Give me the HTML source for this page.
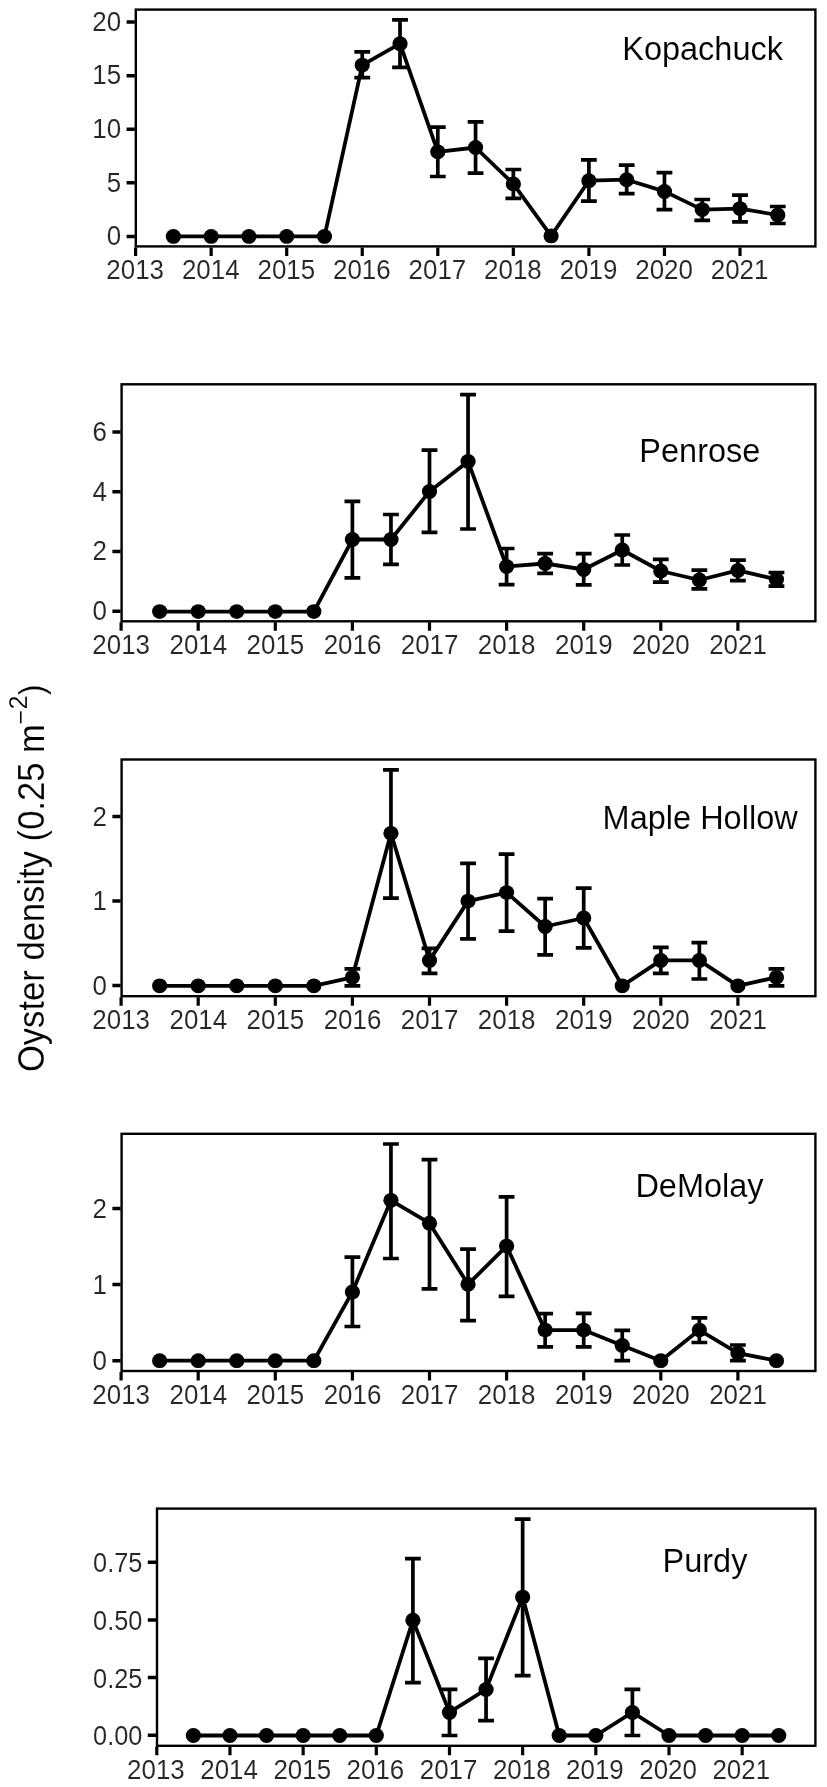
<!DOCTYPE html>
<html><head><meta charset="utf-8"><title>Oyster density</title>
<style>
html,body{margin:0;padding:0;background:#fff;}
body{width:827px;height:1787px;overflow:hidden;font-family:"Liberation Sans",sans-serif;}
svg{display:block;will-change:transform;font-family:"Liberation Sans",sans-serif;}
</style></head><body>
<svg width="827" height="1787" viewBox="0 0 827 1787">
<rect width="827" height="1787" fill="#fff"/>
<g stroke="#000" fill="none">
<rect x="135.80" y="9.60" width="679.60" height="236.80" stroke-width="2.4"/>
<path d="M126.60 22.10H134.80M126.60 75.70H134.80M126.60 129.30H134.80M126.60 182.80H134.80M126.60 236.40H134.80" stroke-width="3.5"/>
<path d="M135.60 247.40V255.90M211.15 247.40V255.90M286.70 247.40V255.90M362.25 247.40V255.90M437.80 247.40V255.90M513.35 247.40V255.90M588.90 247.40V255.90M664.45 247.40V255.90M740.00 247.40V255.90" stroke-width="3.2"/>
<path d="M362.25 77.70V51.90M354.35 77.70H370.15M354.35 51.90H370.15M400.02 67.30V19.80M392.12 67.30H407.92M392.12 19.80H407.92M437.80 176.50V127.20M429.90 176.50H445.70M429.90 127.20H445.70M475.57 173.20V121.90M467.67 173.20H483.47M467.67 121.90H483.47M513.35 198.40V169.50M505.45 198.40H521.25M505.45 169.50H521.25M588.90 201.10V159.90M581.00 201.10H596.80M581.00 159.90H596.80M626.67 193.60V165.20M618.77 193.60H634.57M618.77 165.20H634.57M664.45 209.60V172.70M656.55 209.60H672.35M656.55 172.70H672.35M702.23 220.30V199.50M694.33 220.30H710.12M694.33 199.50H710.12M740.00 221.90V195.20M732.10 221.90H747.90M732.10 195.20H747.90M777.77 223.50V206.50M769.88 223.50H785.67M769.88 206.50H785.67" stroke-width="3.7"/>
<polyline points="173.38,236.40 211.15,236.40 248.92,236.40 286.70,236.40 324.48,236.40 362.25,65.10 400.02,43.70 437.80,151.80 475.57,147.50 513.35,183.90 551.12,235.90 588.90,180.70 626.67,179.70 664.45,191.40 702.23,209.60 740.00,208.60 777.77,215.00" stroke-width="3.8" stroke-linejoin="round"/>
<ellipse cx="173.38" cy="236.40" rx="7.6" ry="7.4" fill="#000" stroke="none"/>
<ellipse cx="211.15" cy="236.40" rx="7.6" ry="7.4" fill="#000" stroke="none"/>
<ellipse cx="248.92" cy="236.40" rx="7.6" ry="7.4" fill="#000" stroke="none"/>
<ellipse cx="286.70" cy="236.40" rx="7.6" ry="7.4" fill="#000" stroke="none"/>
<ellipse cx="324.48" cy="236.40" rx="7.6" ry="7.4" fill="#000" stroke="none"/>
<ellipse cx="362.25" cy="65.10" rx="7.6" ry="7.4" fill="#000" stroke="none"/>
<ellipse cx="400.02" cy="43.70" rx="7.6" ry="7.4" fill="#000" stroke="none"/>
<ellipse cx="437.80" cy="151.80" rx="7.6" ry="7.4" fill="#000" stroke="none"/>
<ellipse cx="475.57" cy="147.50" rx="7.6" ry="7.4" fill="#000" stroke="none"/>
<ellipse cx="513.35" cy="183.90" rx="7.6" ry="7.4" fill="#000" stroke="none"/>
<ellipse cx="551.12" cy="235.90" rx="7.6" ry="7.4" fill="#000" stroke="none"/>
<ellipse cx="588.90" cy="180.70" rx="7.6" ry="7.4" fill="#000" stroke="none"/>
<ellipse cx="626.67" cy="179.70" rx="7.6" ry="7.4" fill="#000" stroke="none"/>
<ellipse cx="664.45" cy="191.40" rx="7.6" ry="7.4" fill="#000" stroke="none"/>
<ellipse cx="702.23" cy="209.60" rx="7.6" ry="7.4" fill="#000" stroke="none"/>
<ellipse cx="740.00" cy="208.60" rx="7.6" ry="7.4" fill="#000" stroke="none"/>
<ellipse cx="777.77" cy="215.00" rx="7.6" ry="7.4" fill="#000" stroke="none"/>
<rect x="121.60" y="384.30" width="693.80" height="237.00" stroke-width="2.4"/>
<path d="M112.40 431.90H120.60M112.40 491.70H120.60M112.40 551.50H120.60M112.40 611.30H120.60" stroke-width="3.5"/>
<path d="M121.10 622.30V630.80M198.20 622.30V630.80M275.30 622.30V630.80M352.40 622.30V630.80M429.50 622.30V630.80M506.60 622.30V630.80M583.70 622.30V630.80M660.80 622.30V630.80M737.90 622.30V630.80" stroke-width="3.2"/>
<path d="M352.40 577.90V501.30M344.50 577.90H360.30M344.50 501.30H360.30M390.95 564.40V514.50M383.05 564.40H398.85M383.05 514.50H398.85M429.50 532.30V450.20M421.60 532.30H437.40M421.60 450.20H437.40M468.05 529.00V394.60M460.15 529.00H475.95M460.15 394.60H475.95M506.60 584.60V548.50M498.70 584.60H514.50M498.70 548.50H514.50M545.15 573.40V553.60M537.25 573.40H553.05M537.25 553.60H553.05M583.70 584.90V553.60M575.80 584.90H591.60M575.80 553.60H591.60M622.25 565.00V535.00M614.35 565.00H630.15M614.35 535.00H630.15M660.80 582.20V559.30M652.90 582.20H668.70M652.90 559.30H668.70M699.35 588.80V570.10M691.45 588.80H707.25M691.45 570.10H707.25M737.90 580.60V560.20M730.00 580.60H745.80M730.00 560.20H745.80M776.45 586.10V572.50M768.55 586.10H784.35M768.55 572.50H784.35" stroke-width="3.7"/>
<polyline points="159.65,611.60 198.20,611.60 236.75,611.60 275.30,611.60 313.85,611.60 352.40,539.50 390.95,539.50 429.50,491.40 468.05,461.40 506.60,566.50 545.15,563.50 583.70,569.50 622.25,550.00 660.80,571.00 699.35,580.00 737.90,570.40 776.45,579.40" stroke-width="3.8" stroke-linejoin="round"/>
<ellipse cx="159.65" cy="611.60" rx="7.6" ry="7.4" fill="#000" stroke="none"/>
<ellipse cx="198.20" cy="611.60" rx="7.6" ry="7.4" fill="#000" stroke="none"/>
<ellipse cx="236.75" cy="611.60" rx="7.6" ry="7.4" fill="#000" stroke="none"/>
<ellipse cx="275.30" cy="611.60" rx="7.6" ry="7.4" fill="#000" stroke="none"/>
<ellipse cx="313.85" cy="611.60" rx="7.6" ry="7.4" fill="#000" stroke="none"/>
<ellipse cx="352.40" cy="539.50" rx="7.6" ry="7.4" fill="#000" stroke="none"/>
<ellipse cx="390.95" cy="539.50" rx="7.6" ry="7.4" fill="#000" stroke="none"/>
<ellipse cx="429.50" cy="491.40" rx="7.6" ry="7.4" fill="#000" stroke="none"/>
<ellipse cx="468.05" cy="461.40" rx="7.6" ry="7.4" fill="#000" stroke="none"/>
<ellipse cx="506.60" cy="566.50" rx="7.6" ry="7.4" fill="#000" stroke="none"/>
<ellipse cx="545.15" cy="563.50" rx="7.6" ry="7.4" fill="#000" stroke="none"/>
<ellipse cx="583.70" cy="569.50" rx="7.6" ry="7.4" fill="#000" stroke="none"/>
<ellipse cx="622.25" cy="550.00" rx="7.6" ry="7.4" fill="#000" stroke="none"/>
<ellipse cx="660.80" cy="571.00" rx="7.6" ry="7.4" fill="#000" stroke="none"/>
<ellipse cx="699.35" cy="580.00" rx="7.6" ry="7.4" fill="#000" stroke="none"/>
<ellipse cx="737.90" cy="570.40" rx="7.6" ry="7.4" fill="#000" stroke="none"/>
<ellipse cx="776.45" cy="579.40" rx="7.6" ry="7.4" fill="#000" stroke="none"/>
<rect x="121.60" y="759.50" width="693.80" height="236.70" stroke-width="2.4"/>
<path d="M112.40 816.40H120.60M112.40 901.00H120.60M112.40 985.50H120.60" stroke-width="3.5"/>
<path d="M121.10 997.20V1005.70M198.20 997.20V1005.70M275.30 997.20V1005.70M352.40 997.20V1005.70M429.50 997.20V1005.70M506.60 997.20V1005.70M583.70 997.20V1005.70M660.80 997.20V1005.70M737.90 997.20V1005.70" stroke-width="3.2"/>
<path d="M352.40 985.80V968.90M344.50 985.80H360.30M344.50 968.90H360.30M390.95 898.10V769.80M383.05 898.10H398.85M383.05 769.80H398.85M429.50 973.30V948.30M421.60 973.30H437.40M421.60 948.30H437.40M468.05 938.80V863.40M460.15 938.80H475.95M460.15 863.40H475.95M506.60 931.20V854.10M498.70 931.20H514.50M498.70 854.10H514.50M545.15 954.80V898.60M537.25 954.80H553.05M537.25 898.60H553.05M583.70 947.90V888.20M575.80 947.90H591.60M575.80 888.20H591.60M660.80 973.30V947.30M652.90 973.30H668.70M652.90 947.30H668.70M699.35 979.00V942.60M691.45 979.00H707.25M691.45 942.60H707.25M776.45 985.80V968.90M768.55 985.80H784.35M768.55 968.90H784.35" stroke-width="3.7"/>
<polyline points="159.65,985.80 198.20,985.80 236.75,985.80 275.30,985.80 313.85,985.80 352.40,977.30 390.95,833.30 429.50,960.40 468.05,901.10 506.60,892.60 545.15,926.50 583.70,918.00 622.25,985.80 660.80,960.40 699.35,960.40 737.90,985.80 776.45,977.30" stroke-width="3.8" stroke-linejoin="round"/>
<ellipse cx="159.65" cy="985.80" rx="7.6" ry="7.4" fill="#000" stroke="none"/>
<ellipse cx="198.20" cy="985.80" rx="7.6" ry="7.4" fill="#000" stroke="none"/>
<ellipse cx="236.75" cy="985.80" rx="7.6" ry="7.4" fill="#000" stroke="none"/>
<ellipse cx="275.30" cy="985.80" rx="7.6" ry="7.4" fill="#000" stroke="none"/>
<ellipse cx="313.85" cy="985.80" rx="7.6" ry="7.4" fill="#000" stroke="none"/>
<ellipse cx="352.40" cy="977.30" rx="7.6" ry="7.4" fill="#000" stroke="none"/>
<ellipse cx="390.95" cy="833.30" rx="7.6" ry="7.4" fill="#000" stroke="none"/>
<ellipse cx="429.50" cy="960.40" rx="7.6" ry="7.4" fill="#000" stroke="none"/>
<ellipse cx="468.05" cy="901.10" rx="7.6" ry="7.4" fill="#000" stroke="none"/>
<ellipse cx="506.60" cy="892.60" rx="7.6" ry="7.4" fill="#000" stroke="none"/>
<ellipse cx="545.15" cy="926.50" rx="7.6" ry="7.4" fill="#000" stroke="none"/>
<ellipse cx="583.70" cy="918.00" rx="7.6" ry="7.4" fill="#000" stroke="none"/>
<ellipse cx="622.25" cy="985.80" rx="7.6" ry="7.4" fill="#000" stroke="none"/>
<ellipse cx="660.80" cy="960.40" rx="7.6" ry="7.4" fill="#000" stroke="none"/>
<ellipse cx="699.35" cy="960.40" rx="7.6" ry="7.4" fill="#000" stroke="none"/>
<ellipse cx="737.90" cy="985.80" rx="7.6" ry="7.4" fill="#000" stroke="none"/>
<ellipse cx="776.45" cy="977.30" rx="7.6" ry="7.4" fill="#000" stroke="none"/>
<rect x="121.60" y="1133.80" width="693.80" height="237.20" stroke-width="2.4"/>
<path d="M112.40 1208.60H120.60M112.40 1284.60H120.60M112.40 1360.70H120.60" stroke-width="3.5"/>
<path d="M121.10 1372.00V1380.50M198.20 1372.00V1380.50M275.30 1372.00V1380.50M352.40 1372.00V1380.50M429.50 1372.00V1380.50M506.60 1372.00V1380.50M583.70 1372.00V1380.50M660.80 1372.00V1380.50M737.90 1372.00V1380.50" stroke-width="3.2"/>
<path d="M352.40 1326.50V1257.20M344.50 1326.50H360.30M344.50 1257.20H360.30M390.95 1258.50V1144.00M383.05 1258.50H398.85M383.05 1144.00H398.85M429.50 1288.90V1159.60M421.60 1288.90H437.40M421.60 1159.60H437.40M468.05 1320.60V1249.20M460.15 1320.60H475.95M460.15 1249.20H475.95M506.60 1296.40V1196.80M498.70 1296.40H514.50M498.70 1196.80H514.50M545.15 1346.90V1313.70M537.25 1346.90H553.05M537.25 1313.70H553.05M583.70 1346.90V1313.30M575.80 1346.90H591.60M575.80 1313.30H591.60M622.25 1360.70V1330.40M614.35 1360.70H630.15M614.35 1330.40H630.15M699.35 1342.50V1317.90M691.45 1342.50H707.25M691.45 1317.90H707.25M737.90 1360.70V1345.00M730.00 1360.70H745.80M730.00 1345.00H745.80" stroke-width="3.7"/>
<polyline points="159.65,1360.70 198.20,1360.70 236.75,1360.70 275.30,1360.70 313.85,1360.70 352.40,1291.90 390.95,1200.30 429.50,1223.20 468.05,1284.30 506.60,1246.10 545.15,1330.10 583.70,1330.10 622.25,1345.40 660.80,1360.70 699.35,1330.10 737.90,1353.10 776.45,1360.70" stroke-width="3.8" stroke-linejoin="round"/>
<ellipse cx="159.65" cy="1360.70" rx="7.6" ry="7.4" fill="#000" stroke="none"/>
<ellipse cx="198.20" cy="1360.70" rx="7.6" ry="7.4" fill="#000" stroke="none"/>
<ellipse cx="236.75" cy="1360.70" rx="7.6" ry="7.4" fill="#000" stroke="none"/>
<ellipse cx="275.30" cy="1360.70" rx="7.6" ry="7.4" fill="#000" stroke="none"/>
<ellipse cx="313.85" cy="1360.70" rx="7.6" ry="7.4" fill="#000" stroke="none"/>
<ellipse cx="352.40" cy="1291.90" rx="7.6" ry="7.4" fill="#000" stroke="none"/>
<ellipse cx="390.95" cy="1200.30" rx="7.6" ry="7.4" fill="#000" stroke="none"/>
<ellipse cx="429.50" cy="1223.20" rx="7.6" ry="7.4" fill="#000" stroke="none"/>
<ellipse cx="468.05" cy="1284.30" rx="7.6" ry="7.4" fill="#000" stroke="none"/>
<ellipse cx="506.60" cy="1246.10" rx="7.6" ry="7.4" fill="#000" stroke="none"/>
<ellipse cx="545.15" cy="1330.10" rx="7.6" ry="7.4" fill="#000" stroke="none"/>
<ellipse cx="583.70" cy="1330.10" rx="7.6" ry="7.4" fill="#000" stroke="none"/>
<ellipse cx="622.25" cy="1345.40" rx="7.6" ry="7.4" fill="#000" stroke="none"/>
<ellipse cx="660.80" cy="1360.70" rx="7.6" ry="7.4" fill="#000" stroke="none"/>
<ellipse cx="699.35" cy="1330.10" rx="7.6" ry="7.4" fill="#000" stroke="none"/>
<ellipse cx="737.90" cy="1353.10" rx="7.6" ry="7.4" fill="#000" stroke="none"/>
<ellipse cx="776.45" cy="1360.70" rx="7.6" ry="7.4" fill="#000" stroke="none"/>
<rect x="157.00" y="1508.60" width="658.40" height="237.20" stroke-width="2.4"/>
<path d="M147.80 1562.30H156.00M147.80 1620.00H156.00M147.80 1677.60H156.00M147.80 1735.30H156.00" stroke-width="3.5"/>
<path d="M156.80 1746.80V1755.30M229.97 1746.80V1755.30M303.14 1746.80V1755.30M376.31 1746.80V1755.30M449.48 1746.80V1755.30M522.65 1746.80V1755.30M595.82 1746.80V1755.30M668.99 1746.80V1755.30M742.16 1746.80V1755.30" stroke-width="3.2"/>
<path d="M412.90 1682.70V1558.60M405.00 1682.70H420.80M405.00 1558.60H420.80M449.48 1735.50V1689.40M441.58 1735.50H457.38M441.58 1689.40H457.38M486.06 1720.70V1658.40M478.17 1720.70H493.96M478.17 1658.40H493.96M522.65 1675.70V1519.10M514.75 1675.70H530.55M514.75 1519.10H530.55M632.40 1735.50V1689.40M624.50 1735.50H640.30M624.50 1689.40H640.30" stroke-width="3.7"/>
<polyline points="193.39,1735.50 229.97,1735.50 266.56,1735.50 303.14,1735.50 339.73,1735.50 376.31,1735.50 412.90,1620.20 449.48,1712.40 486.06,1689.40 522.65,1597.10 559.24,1735.50 595.82,1735.50 632.40,1712.40 668.99,1735.50 705.58,1735.50 742.16,1735.50 778.75,1735.50" stroke-width="3.8" stroke-linejoin="round"/>
<ellipse cx="193.39" cy="1735.50" rx="7.6" ry="7.4" fill="#000" stroke="none"/>
<ellipse cx="229.97" cy="1735.50" rx="7.6" ry="7.4" fill="#000" stroke="none"/>
<ellipse cx="266.56" cy="1735.50" rx="7.6" ry="7.4" fill="#000" stroke="none"/>
<ellipse cx="303.14" cy="1735.50" rx="7.6" ry="7.4" fill="#000" stroke="none"/>
<ellipse cx="339.73" cy="1735.50" rx="7.6" ry="7.4" fill="#000" stroke="none"/>
<ellipse cx="376.31" cy="1735.50" rx="7.6" ry="7.4" fill="#000" stroke="none"/>
<ellipse cx="412.90" cy="1620.20" rx="7.6" ry="7.4" fill="#000" stroke="none"/>
<ellipse cx="449.48" cy="1712.40" rx="7.6" ry="7.4" fill="#000" stroke="none"/>
<ellipse cx="486.06" cy="1689.40" rx="7.6" ry="7.4" fill="#000" stroke="none"/>
<ellipse cx="522.65" cy="1597.10" rx="7.6" ry="7.4" fill="#000" stroke="none"/>
<ellipse cx="559.24" cy="1735.50" rx="7.6" ry="7.4" fill="#000" stroke="none"/>
<ellipse cx="595.82" cy="1735.50" rx="7.6" ry="7.4" fill="#000" stroke="none"/>
<ellipse cx="632.40" cy="1712.40" rx="7.6" ry="7.4" fill="#000" stroke="none"/>
<ellipse cx="668.99" cy="1735.50" rx="7.6" ry="7.4" fill="#000" stroke="none"/>
<ellipse cx="705.58" cy="1735.50" rx="7.6" ry="7.4" fill="#000" stroke="none"/>
<ellipse cx="742.16" cy="1735.50" rx="7.6" ry="7.4" fill="#000" stroke="none"/>
<ellipse cx="778.75" cy="1735.50" rx="7.6" ry="7.4" fill="#000" stroke="none"/>
</g>
<g fill="#262626" font-size="27.3" stroke="#fff" stroke-width="0.1">
<text transform="translate(121.20 30.80) scale(0.95 1)" text-anchor="end">20</text>
<text transform="translate(121.20 84.40) scale(0.95 1)" text-anchor="end">15</text>
<text transform="translate(121.20 138.00) scale(0.95 1)" text-anchor="end">10</text>
<text transform="translate(121.20 191.50) scale(0.95 1)" text-anchor="end">5</text>
<text transform="translate(121.20 245.10) scale(0.95 1)" text-anchor="end">0</text>
<text transform="translate(135.20 279.10) scale(0.95 1)" text-anchor="middle">2013</text>
<text transform="translate(210.75 279.10) scale(0.95 1)" text-anchor="middle">2014</text>
<text transform="translate(286.30 279.10) scale(0.95 1)" text-anchor="middle">2015</text>
<text transform="translate(361.85 279.10) scale(0.95 1)" text-anchor="middle">2016</text>
<text transform="translate(437.40 279.10) scale(0.95 1)" text-anchor="middle">2017</text>
<text transform="translate(512.95 279.10) scale(0.95 1)" text-anchor="middle">2018</text>
<text transform="translate(588.50 279.10) scale(0.95 1)" text-anchor="middle">2019</text>
<text transform="translate(664.05 279.10) scale(0.95 1)" text-anchor="middle">2020</text>
<text transform="translate(739.60 279.10) scale(0.95 1)" text-anchor="middle">2021</text>
<text transform="translate(107.00 440.75) scale(0.95 1)" text-anchor="end">6</text>
<text transform="translate(107.00 500.55) scale(0.95 1)" text-anchor="end">4</text>
<text transform="translate(107.00 560.35) scale(0.95 1)" text-anchor="end">2</text>
<text transform="translate(107.00 620.15) scale(0.95 1)" text-anchor="end">0</text>
<text transform="translate(121.20 654.00) scale(0.95 1)" text-anchor="middle">2013</text>
<text transform="translate(198.30 654.00) scale(0.95 1)" text-anchor="middle">2014</text>
<text transform="translate(275.40 654.00) scale(0.95 1)" text-anchor="middle">2015</text>
<text transform="translate(352.50 654.00) scale(0.95 1)" text-anchor="middle">2016</text>
<text transform="translate(429.60 654.00) scale(0.95 1)" text-anchor="middle">2017</text>
<text transform="translate(506.70 654.00) scale(0.95 1)" text-anchor="middle">2018</text>
<text transform="translate(583.80 654.00) scale(0.95 1)" text-anchor="middle">2019</text>
<text transform="translate(660.90 654.00) scale(0.95 1)" text-anchor="middle">2020</text>
<text transform="translate(738.00 654.00) scale(0.95 1)" text-anchor="middle">2021</text>
<text transform="translate(107.00 825.80) scale(0.95 1)" text-anchor="end">2</text>
<text transform="translate(107.00 910.40) scale(0.95 1)" text-anchor="end">1</text>
<text transform="translate(107.00 994.90) scale(0.95 1)" text-anchor="end">0</text>
<text transform="translate(121.20 1028.90) scale(0.95 1)" text-anchor="middle">2013</text>
<text transform="translate(198.30 1028.90) scale(0.95 1)" text-anchor="middle">2014</text>
<text transform="translate(275.40 1028.90) scale(0.95 1)" text-anchor="middle">2015</text>
<text transform="translate(352.50 1028.90) scale(0.95 1)" text-anchor="middle">2016</text>
<text transform="translate(429.60 1028.90) scale(0.95 1)" text-anchor="middle">2017</text>
<text transform="translate(506.70 1028.90) scale(0.95 1)" text-anchor="middle">2018</text>
<text transform="translate(583.80 1028.90) scale(0.95 1)" text-anchor="middle">2019</text>
<text transform="translate(660.90 1028.90) scale(0.95 1)" text-anchor="middle">2020</text>
<text transform="translate(738.00 1028.90) scale(0.95 1)" text-anchor="middle">2021</text>
<text transform="translate(107.00 1217.50) scale(0.95 1)" text-anchor="end">2</text>
<text transform="translate(107.00 1293.50) scale(0.95 1)" text-anchor="end">1</text>
<text transform="translate(107.00 1369.60) scale(0.95 1)" text-anchor="end">0</text>
<text transform="translate(121.20 1403.70) scale(0.95 1)" text-anchor="middle">2013</text>
<text transform="translate(198.30 1403.70) scale(0.95 1)" text-anchor="middle">2014</text>
<text transform="translate(275.40 1403.70) scale(0.95 1)" text-anchor="middle">2015</text>
<text transform="translate(352.50 1403.70) scale(0.95 1)" text-anchor="middle">2016</text>
<text transform="translate(429.60 1403.70) scale(0.95 1)" text-anchor="middle">2017</text>
<text transform="translate(506.70 1403.70) scale(0.95 1)" text-anchor="middle">2018</text>
<text transform="translate(583.80 1403.70) scale(0.95 1)" text-anchor="middle">2019</text>
<text transform="translate(660.90 1403.70) scale(0.95 1)" text-anchor="middle">2020</text>
<text transform="translate(738.00 1403.70) scale(0.95 1)" text-anchor="middle">2021</text>
<text transform="translate(142.40 1572.20) scale(0.928 1)" text-anchor="end">0.75</text>
<text transform="translate(142.40 1629.90) scale(0.928 1)" text-anchor="end">0.50</text>
<text transform="translate(142.40 1687.50) scale(0.928 1)" text-anchor="end">0.25</text>
<text transform="translate(142.40 1745.20) scale(0.928 1)" text-anchor="end">0.00</text>
<text transform="translate(155.90 1778.50) scale(0.95 1)" text-anchor="middle">2013</text>
<text transform="translate(229.07 1778.50) scale(0.95 1)" text-anchor="middle">2014</text>
<text transform="translate(302.24 1778.50) scale(0.95 1)" text-anchor="middle">2015</text>
<text transform="translate(375.41 1778.50) scale(0.95 1)" text-anchor="middle">2016</text>
<text transform="translate(448.58 1778.50) scale(0.95 1)" text-anchor="middle">2017</text>
<text transform="translate(521.75 1778.50) scale(0.95 1)" text-anchor="middle">2018</text>
<text transform="translate(594.92 1778.50) scale(0.95 1)" text-anchor="middle">2019</text>
<text transform="translate(668.09 1778.50) scale(0.95 1)" text-anchor="middle">2020</text>
<text transform="translate(741.26 1778.50) scale(0.95 1)" text-anchor="middle">2021</text>
</g>
<g fill="#000" font-size="33" stroke="#fff" stroke-width="0.1">
<text transform="translate(702.60 60.00) scale(0.985 1)" text-anchor="middle">Kopachuck</text>
<text transform="translate(699.85 461.50) scale(0.985 1)" text-anchor="middle">Penrose</text>
<text transform="translate(700.15 828.70) scale(0.985 1)" text-anchor="middle">Maple Hollow</text>
<text transform="translate(699.50 1197.10) scale(0.985 1)" text-anchor="middle">DeMolay</text>
<text transform="translate(704.95 1571.50) scale(0.985 1)" text-anchor="middle">Purdy</text>
</g>
<g transform="translate(44.3 1072.1) rotate(-90)" fill="#000" font-size="36" stroke="#fff" stroke-width="0.15"><text x="0" y="0" textLength="348" lengthAdjust="spacingAndGlyphs">Oyster density (0.25 m</text><text x="347.5" y="-15.2" font-size="25">&#8722;</text><text x="362.9" y="-17.4" font-size="25" textLength="13.7" lengthAdjust="spacingAndGlyphs">2</text><text transform="translate(377 0.1) scale(0.88 1)" font-size="35.5">)</text></g>
</svg>
</body></html>
